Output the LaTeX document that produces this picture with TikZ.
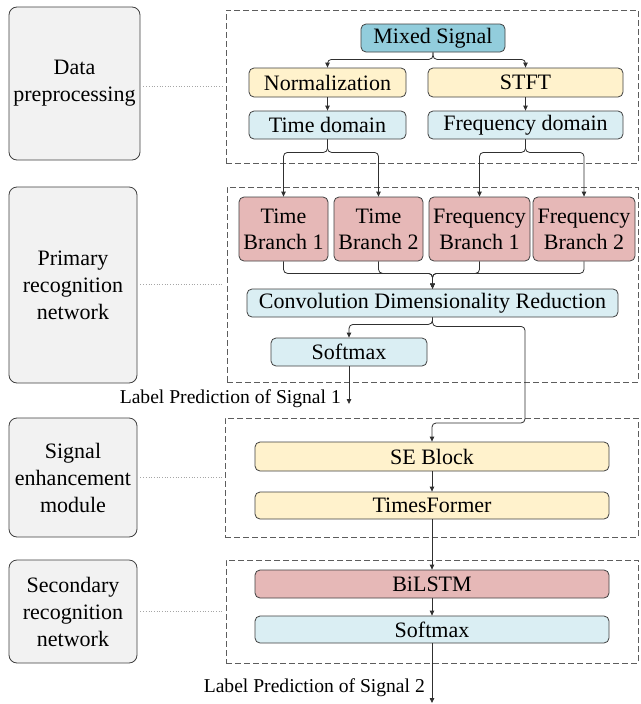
\documentclass[tikz,border=0pt]{standalone}
\usepackage{fontspec}
\setmainfont{Liberation Serif}
\usetikzlibrary{arrows.meta}

\definecolor{edgegray}{HTML}{404040}
\definecolor{linegray}{HTML}{303030}
\definecolor{inputfill}{HTML}{92CDDC}
\definecolor{prepfill}{HTML}{FFF2CC}
\definecolor{domainfill}{HTML}{DAEEF3}
\definecolor{branchfill}{HTML}{E6B8B7}
\definecolor{stagefill}{HTML}{F2F2F2}

\tikzset{
  blk/.style={draw=edgegray, line width=0.8pt, rounded corners=5pt, inner sep=0pt,
    align=center, font=\fontsize{22}{26}\selectfont},
  stagebox/.style={blk, fill=stagefill, rounded corners=8pt, font=\fontsize{22}{27}\selectfont},
  group/.style={draw=edgegray!85, dash pattern=on 6pt off 3pt, line width=0.8pt,
    inner sep=0pt},
  conn/.style={draw=linegray, line width=0.8pt, rounded corners=4pt,
    -{Triangle[length=5pt,width=4.5pt]}},
  link/.style={draw=gray!70, dotted, line width=0.7pt, shorten <=3pt, shorten >=3pt},
  lbl/.style={font=\fontsize{19.6}{22}\selectfont, inner sep=0pt}
}

\begin{document}
\begin{tikzpicture}[x=1pt, y=-1pt]
  \useasboundingbox[fill=white] (0,0) rectangle (640,704);

  % dashed group frames
  \node[group, minimum width=412pt, minimum height=153pt] (g1) at (432,86.5) {};
  \node[group, minimum width=411pt, minimum height=195pt] (g2) at (432.5,284.5) {};
  \node[group, minimum width=413pt, minimum height=119pt] (g3) at (431.5,477.5) {};
  \node[group, minimum width=412pt, minimum height=103pt] (g4) at (432,611.5) {};

  % stage labels on the left
  \node[stagebox, minimum width=131pt, minimum height=153pt] (s1) at (74.5,83.5) {Data\\preprocessing};
  \node[stagebox, minimum width=128pt, minimum height=196pt] (s2) at (73,285) {Primary\\recognition\\network};
  \node[stagebox, minimum width=128pt, minimum height=119pt] (s3) at (73,477.5) {Signal\\enhancement\\module};
  \node[stagebox, minimum width=128pt, minimum height=103pt] (s4) at (73,611.5) {Secondary\\recognition\\network};

  \draw[link] (s1.east |- g1.west) -- (g1.west);
  \draw[link] (s2.east |- g2.west) -- (g2.west);
  \draw[link] (s3.east |- g3.west) -- (g3.west);
  \draw[link] (s4.east |- g4.west) -- (g4.west);

  % data preprocessing
  \node[blk, fill=inputfill, minimum width=144pt, minimum height=28pt] (ms) at (433,38) {Mixed Signal};
  \node[blk, fill=prepfill, minimum width=157pt, minimum height=29pt] (norm) at (327.5,82.5) {Normalization};
  \node[blk, fill=prepfill, minimum width=195pt, minimum height=29pt] (stft) at (525.5,82.5) {STFT};
  \node[blk, fill=domainfill, minimum width=157pt, minimum height=28pt] (td) at (327.5,125) {Time domain};
  \node[blk, fill=domainfill, minimum width=195pt, minimum height=28pt] (fd) at (525.5,125) {Frequency domain};

  % primary recognition network
  \node[blk, fill=branchfill, minimum width=89pt, minimum height=64pt] (tb1) at (283.5,229) {Time\\Branch 1};
  \node[blk, fill=branchfill, minimum width=89pt, minimum height=64pt] (tb2) at (378.5,229) {Time\\Branch 2};
  \node[blk, fill=branchfill, minimum width=101pt, minimum height=64pt] (fb1) at (479.5,229) {Frequency\\Branch 1};
  \node[blk, fill=branchfill, minimum width=102pt, minimum height=64pt] (fb2) at (584,229) {Frequency\\Branch 2};
  \node[blk, fill=domainfill, minimum width=371pt, minimum height=28pt] (conv) at (432.5,303) {Convolution Dimensionality Reduction};
  \node[blk, fill=domainfill, minimum width=156pt, minimum height=28pt] (sm1) at (349,352) {Softmax};

  % signal enhancement module
  \node[blk, fill=prepfill, minimum width=354pt, minimum height=29pt] (se) at (432,456.5) {SE Block};
  \node[blk, fill=prepfill, minimum width=354pt, minimum height=27pt] (tf) at (432,505.5) {TimesFormer};

  % secondary recognition network
  \node[blk, fill=branchfill, minimum width=354pt, minimum height=28pt] (bl) at (432,584) {BiLSTM};
  \node[blk, fill=domainfill, minimum width=354pt, minimum height=27pt] (sm2) at (432,629.5) {Softmax};

  % outputs
  \coordinate (out1) at (349,404);
  \coordinate (out2) at (432,703);
  \coordinate (bend) at (525,423);
  \node[lbl, anchor=east] (lp1) at (341,399) {Label Prediction of Signal 1};
  \node[lbl, anchor=east] (lp2) at (425,688) {Label Prediction of Signal 2};

  % connectors
  \draw[conn] (ms.south) -- ++(0,7) -| (norm.north);
  \draw[conn] (ms.south) -- ++(0,7) -| (stft.north);
  \draw[conn] (norm) -- (td);
  \draw[conn] (stft) -- (fd);
  \draw[conn] (td.south) -- ++(0,13) -| (tb1.north);
  \draw[conn] (td.south) -- ++(0,13) -| (tb2.north);
  \draw[conn] (fd.south) -- ++(0,13) -| (fb1.north);
  \draw[conn] (fd.south) -- ++(0,13) -| (fb2.north);
  \draw[conn] (tb1.south) -- ++(0,12) -| (conv.north);
  \draw[conn] (tb2.south) -- ++(0,12) -| (conv.north);
  \draw[conn] (fb1.south) -- ++(0,12) -| (conv.north);
  \draw[conn] (fb2.south) -- ++(0,12) -| (conv.north);
  \draw[conn] (conv.south) -- ++(0,7) -| (sm1.north);
  \draw[conn] (conv.south) -- ++(0,9) -| (bend) -| (se.north);
  \draw[conn] (sm1.south) -- (out1);
  \draw[conn] (se) -- (tf);
  \draw[conn] (tf) -- (bl);
  \draw[conn] (bl) -- (sm2);
  \draw[conn] (sm2.south) -- (out2);
\end{tikzpicture}
\end{document}
